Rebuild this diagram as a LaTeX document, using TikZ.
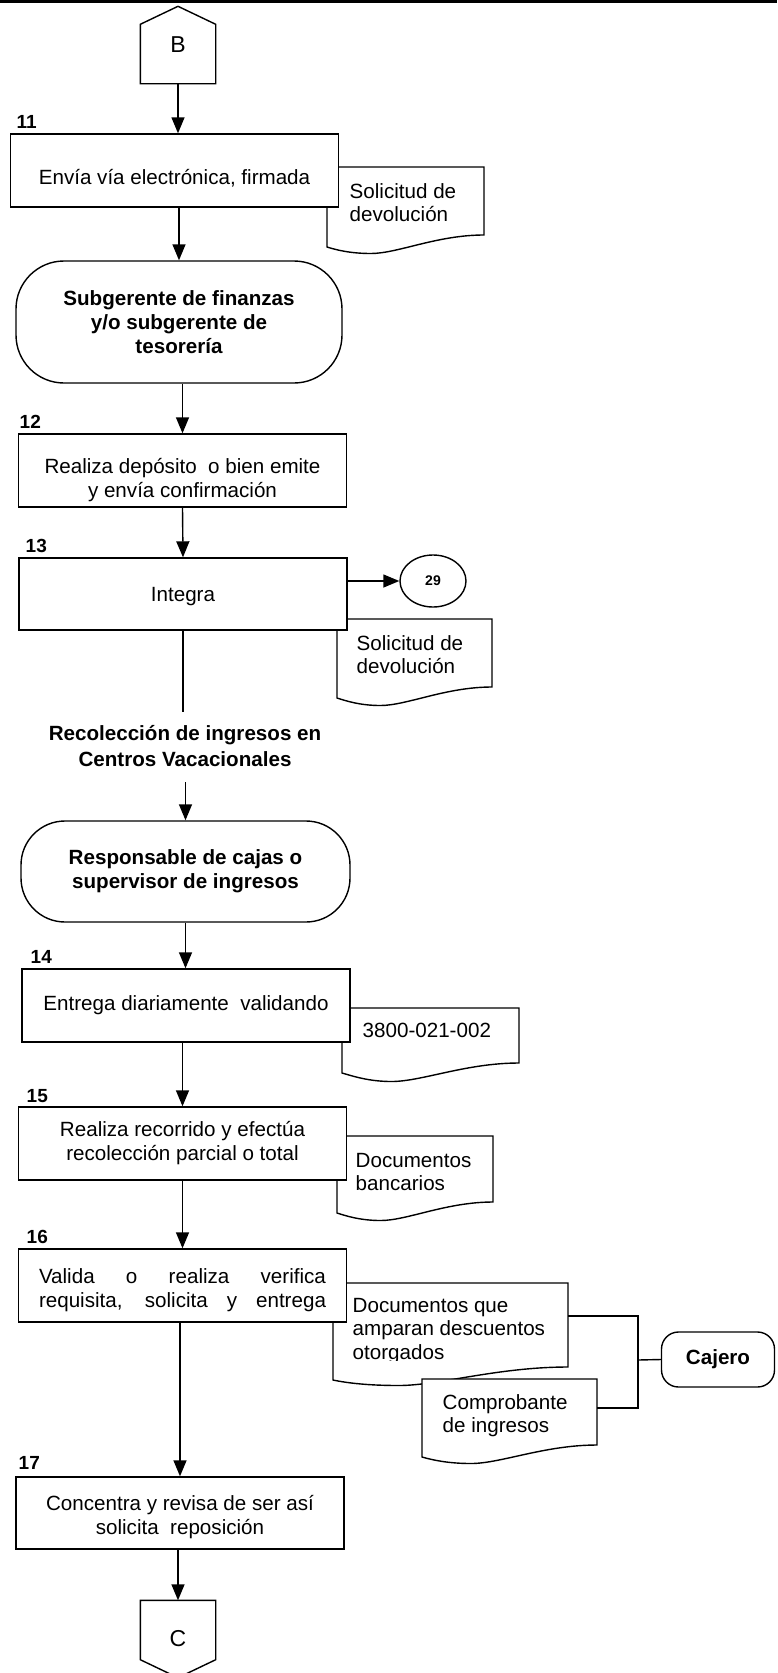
\documentclass[tikz,border=0pt]{standalone}
\usepackage{fontspec}
\setmainfont{Liberation Sans}
\usetikzlibrary{arrows.meta,shapes.geometric}

% Document symbol: flat top, wavy bottom (right end higher than left end)
% #1 left x, #2 top y, #3 right x, #4 bottom y at right, #5 bottom y at left
\newcommand\docoutline[5]{%
  \draw[fill=white] (#1,#2) -- (#3,#2) -- (#3,#4)
    .. controls ({#3-0.3*(#3-#1)},#4) and ({#1+0.45*(#3-#1)},{#4+18.5}) .. ({#1+0.28*(#3-#1)},{#4+18.5})
    .. controls ({#1+0.15*(#3-#1)},{#4+18.5}) and ({#1+0.06*(#3-#1)},{#5+3}) .. (#1,#5) -- cycle;}
% invisible strut that pushes the first line of a box text downwards
\newcommand\firstlift[1]{\rule{0pt}{#1}}

\begin{document}
\begin{tikzpicture}[x=1pt,y=-1pt,line width=1.4pt,
  arr/.style={-{Triangle[length=16pt,width=13pt]}},
  stepbox/.style={draw,fill=white,minimum width=328pt,minimum height=73pt,inner sep=0pt,
    align=center,font=\fontsize{20.6}{24}\selectfont},
  term/.style={draw,fill=white,inner sep=0pt,align=center,
    font=\fontsize{20.6}{24}\selectfont\bfseries},
  num/.style={anchor=base west,inner sep=0pt,font=\fontsize{19}{21}\selectfont\bfseries},
  doctext/.style={anchor=base west,inner sep=0pt,align=left,
    font=\fontsize{20.6}{23.5}\selectfont},
  connector/.style={inner sep=0pt,minimum width=74pt,minimum height=76pt,
    font=\fontsize{23}{26}\selectfont},
]
\useasboundingbox (0,0) rectangle (777,1673);

% page rule
\draw[line width=2.7pt] (0,1.35) -- (777,1.35);

% off-page connector B
\node[connector] (B) at (178,45) {B};
\draw (B.south west) -- ([yshift=-18pt]B.north west) -- (B.north)
  -- ([yshift=-18pt]B.north east) -- (B.south east) -- cycle;

% documents (drawn first, the step boxes overlap them);
% each text is anchored on the baseline of its last line
\docoutline{327}{167}{484}{235}{247}
\node[doctext] (d1) at (349,221.5) {Solicitud de\\devolución};
\docoutline{337}{619}{492}{687}{698}
\node[doctext] (d2) at (356,673.5) {Solicitud de\\devolución};
\docoutline{342}{1008}{519}{1063}{1073}
\node[doctext] (d3) at (362,1037) {3800-021-002};
\docoutline{337}{1136}{493}{1202}{1213}
\node[doctext] (d4) at (355,1190.5) {Documentos\\bancarios};
\docoutline{333}{1283}{568}{1367}{1380}
\begin{scope}
  \clip (333,1283) rectangle (568,1360);
  \node[doctext] (d5) at (352,1359) {Documentos que\\amparan descuentos\\otorgados};
\end{scope}
\docoutline{422}{1379}{597}{1445}{1457}
\node[doctext] (d6) at (442,1432.5) {Comprobante\\de ingresos};

% steps
\node[num] (n11) at (16,128) {11};
\node[stepbox] (s11) at (174.5,170.5) {\firstlift{30pt}Envía vía electrónica, firmada};
\node[term,rounded corners=48pt,minimum width=326pt,minimum height=122pt] (t1) at (179,322)
  {Subgerente de finanzas\\y/o subgerente de\\tesorería};
\node[num] (n12) at (19,428) {12};
\node[stepbox] (s12) at (182.5,470.5)
  {\firstlift{34pt}Realiza depósito~ o bien emite\\y envía confirmación};
\node[num] (n13) at (25,552) {13};
\node[stepbox,minimum height=72pt] (s13) at (183,594) {\firstlift{19pt}Integra};
\node[draw,ellipse,minimum width=66pt,minimum height=52pt,inner sep=0pt,
  font=\fontsize{14}{16}\selectfont\bfseries] (c29) at (433,581) {29};
\coordinate (e13) at (184,712);

\node[inner sep=0pt,align=center,font=\fontsize{20.6}{25.5}\selectfont\bfseries] (rec) at (185,746)
  {Recolección de ingresos en\\Centros Vacacionales};
\coordinate (r2) at (185.5,782);
\node[term,rounded corners=44pt,minimum width=329pt,minimum height=101pt] (t2) at (185.5,871.5)
  {Responsable de cajas o\\supervisor de ingresos};
\node[num] (n14) at (30,963) {14};
\node[stepbox] (s14) at (186,1005.5) {Entrega diariamente~ validando};
\node[num] (n15) at (26,1102) {15};
\node[stepbox] (s15) at (182.5,1143.5) {Realiza recorrido y efectúa\\recolección parcial o total};
\node[num] (n16) at (26,1243) {16};
\node[stepbox] (s16) at (182.5,1285.5)
  {\firstlift{24pt}\makebox[287pt][s]{Valida o realiza verifica}\\\makebox[287pt][s]{requisita, solicita y entrega}};
\node[num] (n17) at (18,1469) {17};
\node[stepbox,minimum height=72pt] (s17) at (180,1513)
  {\firstlift{23pt}Concentra y revisa de ser así\\solicita~ reposición};

% off-page connector C
\node[connector] (C) at (178,1639) {C};
\draw (C.north west) -- ([yshift=18pt]C.south west) -- (C.south)
  -- ([yshift=18pt]C.south east) -- (C.north east) -- cycle;

% cashier terminal
\node[draw,fill=white,rounded corners=17pt,minimum width=113pt,minimum height=55pt,inner sep=0pt,
  font=\fontsize{20.6}{24}\selectfont\bfseries] (caj) at (718,1359.5) {Cajero};
\coordinate (j1) at (638,1360);
\coordinate (d5e) at (568,1316);
\coordinate (d6e) at (597,1408);

% connectors
\draw[arr] (B.south) -- (B.south |- s11.north);
\draw[arr] (s11.south -| t1.north) -- (t1.north);
\draw[arr] (t1.south -| s12.north) -- (s12.north);
\draw[arr] (s12.south) -- (s13.north);
\draw[arr] (s13.east |- c29.west) -- (c29.west);
\draw (s13.south) -- (s13.south |- e13);
\draw[arr] (r2) -- (t2.north);
\draw[arr] (t2.south) -- (t2.south |- s14.north);
\draw[arr] (s14.south -| s15.north) -- (s15.north);
\draw[arr] (s15.south) -- (s16.north);
\draw[arr] (s16.south -| s17.north) -- (s17.north);
\draw[arr] (s17.south -| C.north) -- (C.north);
\draw (d5e) -| (j1) |- (d6e);
\draw (j1) -- (caj.west);
\end{tikzpicture}
\end{document}
